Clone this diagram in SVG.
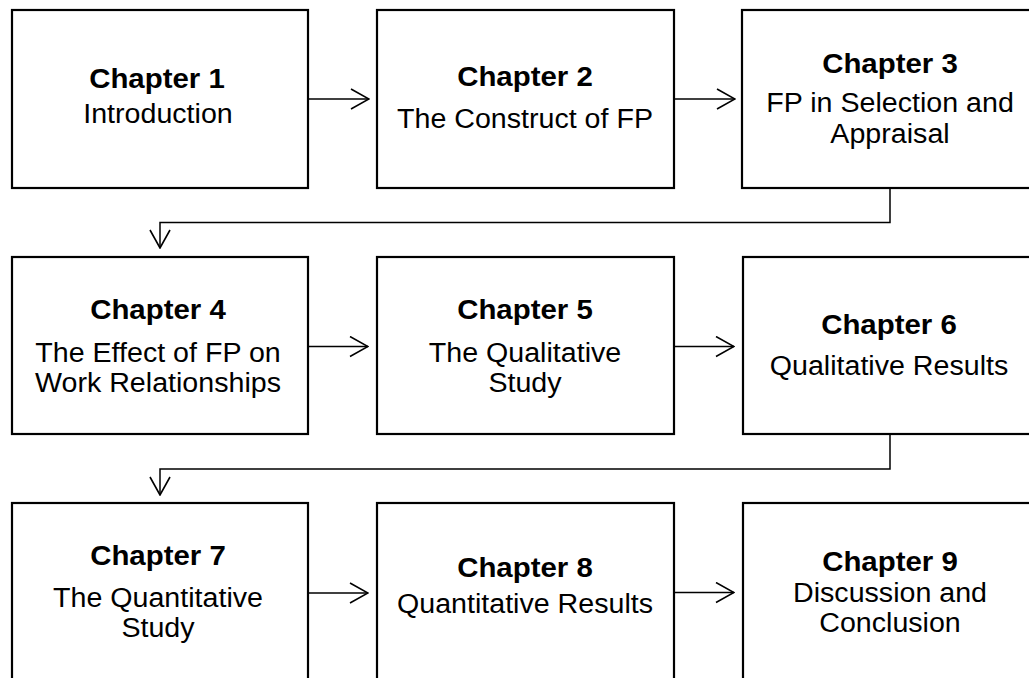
<svg xmlns="http://www.w3.org/2000/svg" width="1029" height="678" viewBox="0 0 1029 678">
  <style>
    .box { fill: #fff; stroke: #000; stroke-width: 2.2; }
    .t { font-family: "Liberation Sans", Arial, sans-serif; font-size: 27px; text-anchor: middle; fill: #000; }
    .b { font-weight: bold; }
    .link { fill: none; stroke: #000; stroke-width: 1.5; }
  </style>
  <defs>
    <marker id="open" viewBox="0 0 20 22" refX="19" refY="11" markerWidth="20" markerHeight="22" markerUnits="userSpaceOnUse" orient="auto">
      <path d="M1,1 L19,11 L1,21" fill="none" stroke="#000" stroke-width="1.6"/>
    </marker>
  </defs>

  <rect width="1029" height="678" fill="#fff"/>

  <!-- row 1 -->
  <g id="ch1">
    <rect class="box" x="12" y="10" width="296" height="178"/>
    <text class="t b" transform="translate(157,88) scale(1.09,1)">Chapter 1</text>
    <text class="t" transform="translate(158,122.5) scale(1.06,1)">Introduction</text>
  </g>
  <g id="ch2">
    <rect class="box" x="377" y="10" width="297" height="178"/>
    <text class="t b" transform="translate(525,86) scale(1.09,1)">Chapter 2</text>
    <text class="t" transform="translate(525,128) scale(1.06,1)">The Construct of FP</text>
  </g>
  <g id="ch3">
    <rect class="box" x="742" y="10" width="297" height="178"/>
    <text class="t b" transform="translate(890,72.5) scale(1.09,1)">Chapter 3</text>
    <text class="t" transform="translate(890,111.5) scale(1.06,1)">FP in Selection and</text>
    <text class="t" transform="translate(890,143) scale(1.06,1)">Appraisal</text>
  </g>

  <!-- row 2 -->
  <g id="ch4">
    <rect class="box" x="12" y="257" width="296" height="177"/>
    <text class="t b" transform="translate(158,318.5) scale(1.09,1)">Chapter 4</text>
    <text class="t" transform="translate(158,361.5) scale(1.06,1)">The Effect of FP on</text>
    <text class="t" transform="translate(158,391.5) scale(1.06,1)">Work Relationships</text>
  </g>
  <g id="ch5">
    <rect class="box" x="377" y="257" width="297" height="177"/>
    <text class="t b" transform="translate(525,318.5) scale(1.09,1)">Chapter 5</text>
    <text class="t" transform="translate(525,361.5) scale(1.06,1)">The Qualitative</text>
    <text class="t" transform="translate(525,391.5) scale(1.06,1)">Study</text>
  </g>
  <g id="ch6">
    <rect class="box" x="743" y="257" width="297" height="177"/>
    <text class="t b" transform="translate(889,333.5) scale(1.09,1)">Chapter 6</text>
    <text class="t" transform="translate(889,375) scale(1.06,1)">Qualitative Results</text>
  </g>

  <!-- row 3 -->
  <g id="ch7">
    <rect class="box" x="12" y="503" width="296" height="180"/>
    <text class="t b" transform="translate(158,564.5) scale(1.09,1)">Chapter 7</text>
    <text class="t" transform="translate(158,606.5) scale(1.06,1)">The Quantitative</text>
    <text class="t" transform="translate(158,636.5) scale(1.06,1)">Study</text>
  </g>
  <g id="ch8">
    <rect class="box" x="377" y="503" width="297" height="180"/>
    <text class="t b" transform="translate(525,576.5) scale(1.09,1)">Chapter 8</text>
    <text class="t" transform="translate(525,613) scale(1.06,1)">Quantitative Results</text>
  </g>
  <g id="ch9">
    <rect class="box" x="743" y="503" width="297" height="180"/>
    <text class="t b" transform="translate(890,570.5) scale(1.09,1)">Chapter 9</text>
    <text class="t" transform="translate(890,601.5) scale(1.06,1)">Discussion and</text>
    <text class="t" transform="translate(890,632) scale(1.06,1)">Conclusion</text>
  </g>

  <!-- connectors -->
  <g id="links">
    <path class="link" d="M308,99 H369" marker-end="url(#open)"/>
    <path class="link" d="M674,99 H735" marker-end="url(#open)"/>
    <path class="link" d="M890,188 V222.5 H160 V248" marker-end="url(#open)"/>
    <path class="link" d="M308,346.5 H368" marker-end="url(#open)"/>
    <path class="link" d="M674,346.5 H734" marker-end="url(#open)"/>
    <path class="link" d="M890,434 V469 H160 V495" marker-end="url(#open)"/>
    <path class="link" d="M308,593 H368" marker-end="url(#open)"/>
    <path class="link" d="M674,592.5 H734" marker-end="url(#open)"/>
  </g>
</svg>
